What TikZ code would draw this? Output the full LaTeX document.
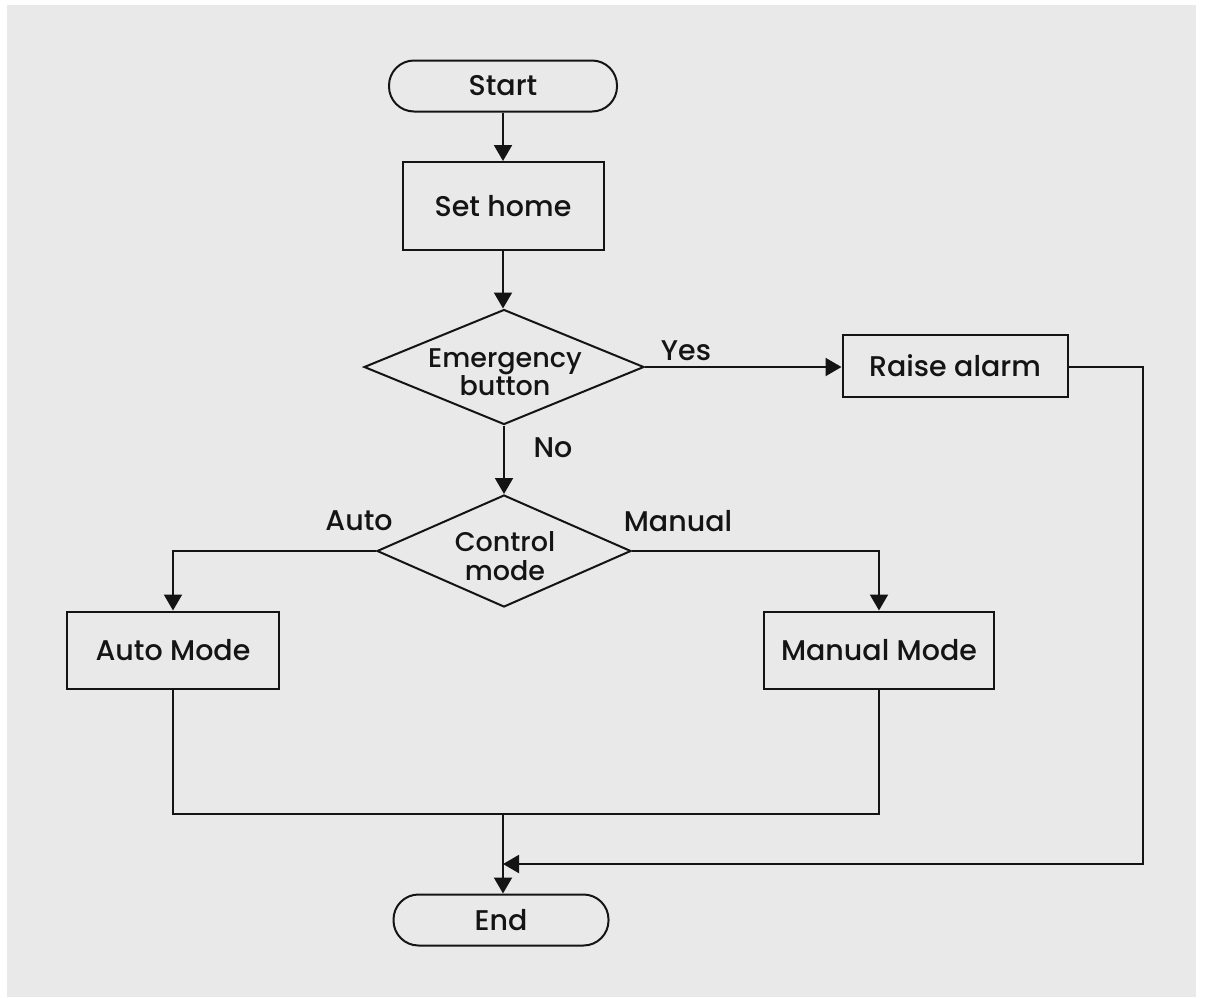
\documentclass[tikz,border=0pt]{standalone}
\usepackage{fontspec}
\setmainfont{Poppins Medium}
\usetikzlibrary{arrows.meta,shapes.geometric}
\definecolor{paper}{RGB}{233,233,233}
\definecolor{ink}{RGB}{20,20,20}
\newcommand\pairlines{\fontsize{27}{28.5}\selectfont}
\tikzset{
  every node/.style={text=ink, font=\fontsize{28.5}{27}\selectfont},
  line/.style={draw=ink, line width=2pt},
  flow/.style={line, -{Triangle[length=16pt,width=18pt]}},
  terminal/.style={line, rectangle, inner sep=0pt},
  process/.style={line, rectangle, inner sep=0pt},
  decision/.style={line, diamond, inner sep=0pt},
  caption/.style={inner sep=0pt, align=center},
  twoline/.style={caption, font=\pairlines}
}
\begin{document}
\begin{tikzpicture}[x=1pt,y=-1pt]
  % page and backdrop
  \fill[white] (0,0) rectangle (1205,997);
  \useasboundingbox (0,0) rectangle (1205,997);
  \fill[paper] (7,5) rectangle (1196,997);

  % nodes
  \node[terminal, minimum width=228pt, minimum height=51pt, rounded corners=25pt] (start) at (503,86) {Start};
  \node[process, minimum width=201pt, minimum height=88pt] (home) at (503,206) {Set home};
  \node[decision, minimum width=280pt, minimum height=115pt] (emg) at (504,367) {};
  \node[twoline] (emgtext) at (505,372) {Emergency\\button};
  \node[process, minimum width=225pt, minimum height=62pt] (alarm) at (955,366) {Raise alarm};
  \node[decision, minimum width=254pt, minimum height=112pt] (ctl) at (504,551) {};
  \node[twoline] (ctltext) at (505,556) {Control\\mode};
  \node[process, minimum width=212pt, minimum height=77pt] (auto) at (173,650) {Auto Mode};
  \node[process, minimum width=230pt, minimum height=77pt] (manual) at (879,650) {Manual Mode};
  \node[terminal, minimum width=215pt, minimum height=51pt, rounded corners=25pt] (end) at (501,920) {End};

  % branch labels
  \node[caption] (yes) at (686,351) {Yes};
  \node[caption] (no) at (553,448) {No};
  \node[caption] (autolbl) at (359,521) {Auto};
  \node[caption] (manlbl) at (678,521) {Manual};

  % junction points
  \coordinate (merge) at (503,814);
  \coordinate (back) at (503,864);
  \coordinate (bend) at (1143,367);

  % connectors
  \draw[flow] (start.south) -- (home.north);
  \draw[flow] (home.south) -- (home.south |- emg.north);
  \draw[flow] (emg.east) -- (alarm.west |- emg.east);
  \draw[flow] (emg.south) -- (ctl.north);
  \draw[flow] (ctl.west) -| (auto.north);
  \draw[flow] (ctl.east) -| (manual.north);
  \draw[line] (auto.south) |- (merge) -| (manual.south);
  \draw[flow] (merge) -- (merge |- end.north);
  \draw[flow] (alarm.east |- bend) -- (bend) |- (back);
\end{tikzpicture}
\end{document}
